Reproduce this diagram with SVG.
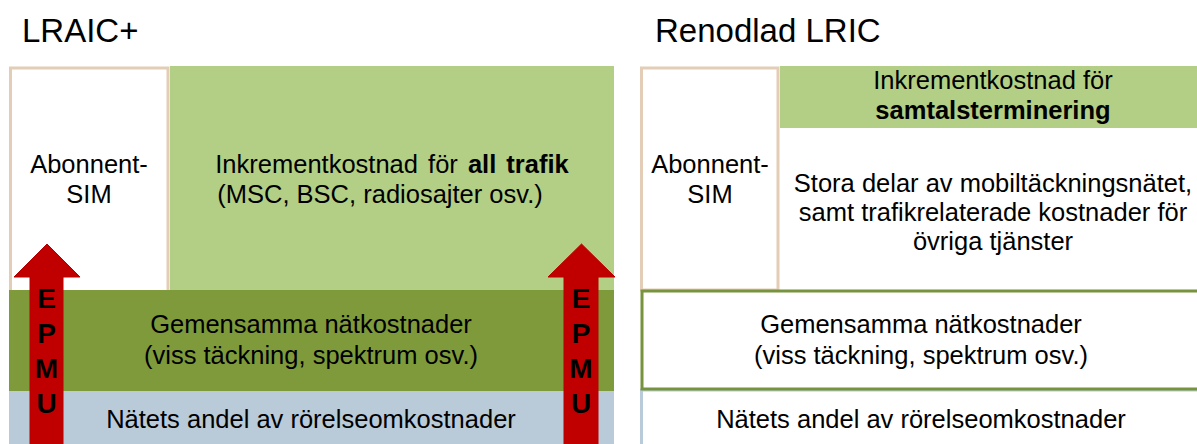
<svg xmlns="http://www.w3.org/2000/svg" width="1197" height="444" viewBox="0 0 1197 444">
<style>
text{font-family:"Liberation Sans",Arial,sans-serif;fill:#000;}
.t{font-size:25.5px;text-anchor:middle;}
.h{font-size:33px;}
.b{font-weight:bold;}
.e{font-size:28px;font-weight:bold;text-anchor:middle;}
.tan{fill:#fff;stroke:#E4CDB6;stroke-width:3;}
.lg{fill:#B3CE85;}
.dg{fill:#7F9A3B;}
.bl{fill:#B9CAD8;}
.arrow{fill:#C00000;stroke:#B80000;stroke-width:1;}
</style>
<g id="titles">
<text class="h" x="22" y="42">LRAIC+</text>
<text class="h" x="655" y="42">Renodlad LRIC</text>
</g>
<g id="left-abonnent">
<rect class="tan" x="10.5" y="68" width="157.5" height="230"/>
<text class="t" x="89" y="173">Abonnent-</text>
<text class="t" x="89" y="203">SIM</text>
</g>
<g id="left-inkrement">
<rect class="lg" x="170" y="66" width="444" height="224"/>
<text class="t" x="392" y="173" word-spacing="3">Inkrementkostnad för <tspan class="b">all trafik</tspan></text>
<text class="t" x="380" y="203">(MSC, BSC, radiosajter osv.)</text>
</g>
<g id="left-gemensamma">
<rect class="dg" x="9" y="290" width="605" height="101"/>
<text class="t" x="311" y="333">Gemensamma nätkostnader</text>
<text class="t" x="311" y="364">(viss täckning, spektrum osv.)</text>
</g>
<g id="left-natets">
<rect class="bl" x="9" y="391" width="605" height="53"/>
<text class="t" x="311" y="428">Nätets andel av rörelseomkostnader</text>
</g>
<g id="right-abonnent">
<rect class="tan" x="641.5" y="68" width="136.5" height="222"/>
<text class="t" x="710" y="173">Abonnent-</text>
<text class="t" x="710" y="203">SIM</text>
</g>
<g id="right-inkrement">
<rect class="lg" x="780" y="66" width="420" height="62"/>
<text class="t" x="993" y="89">Inkrementkostnad för</text>
<text class="t b" x="993" y="119">samtalsterminering</text>
</g>
<g id="right-stora">
<text class="t" x="993" y="192">Stora delar av mobiltäckningsnätet,</text>
<text class="t" x="993" y="221">samt trafikrelaterade kostnader för</text>
<text class="t" x="993" y="250">övriga tjänster</text>
</g>
<g id="right-natets">
<rect x="641.5" y="390" width="570" height="70" fill="#fff" stroke="#B9CAD8" stroke-width="3"/>
<text class="t" x="921" y="428">Nätets andel av rörelseomkostnader</text>
</g>
<g id="right-gemensamma">
<rect x="642" y="291" width="570" height="98" fill="#fff" stroke="#77933C" stroke-width="3"/>
<text class="t" x="921" y="333">Gemensamma nätkostnader</text>
<text class="t" x="921" y="364">(viss täckning, spektrum osv.)</text>
</g>
<g id="connectors">
<g id="epmu-left">
<polygon class="arrow" points="14,277 47,244 80,277 63,277 63,445 30,445 30,277"/>
<text class="e" x="46.5" y="308">E</text>
<text class="e" x="46.5" y="343">P</text>
<text class="e" x="46.5" y="378">M</text>
<text class="e" x="46.5" y="413">U</text>
</g>
<g id="epmu-right">
<polygon class="arrow" points="548,277 581.5,244 615,277 598,277 598,445 564,445 564,277"/>
<text class="e" x="581" y="308">E</text>
<text class="e" x="581" y="343">P</text>
<text class="e" x="581" y="378">M</text>
<text class="e" x="581" y="413">U</text>
</g>
</g>
</svg>
